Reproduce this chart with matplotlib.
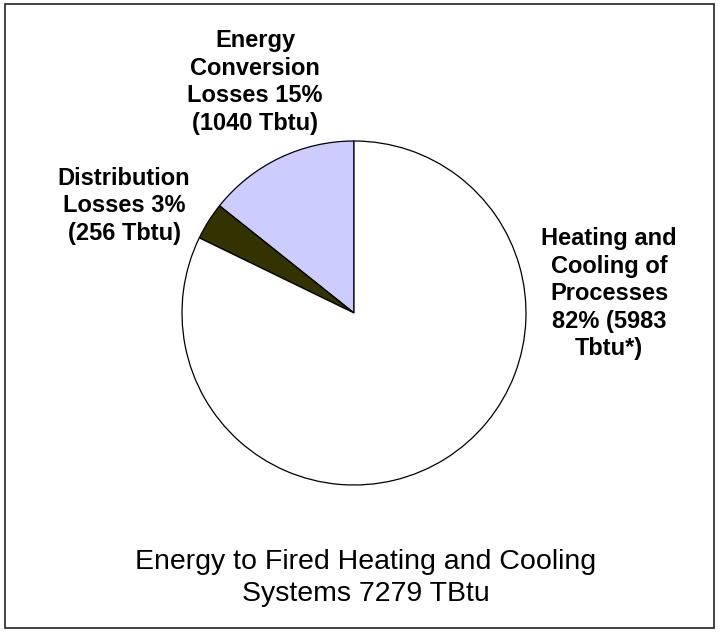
import matplotlib
matplotlib.use("Agg")
import matplotlib.pyplot as plt
from matplotlib.patches import Rectangle

plt.rcParams['font.family'] = ['Liberation Sans', 'DejaVu Sans']

# slices, counter-clockwise from the top
names = ["Energy\nConversion\nLosses 15%\n(1040 Tbtu)",
         "Distribution\nLosses 3%\n(256 Tbtu)",
         "Heating and\nCooling of\nProcesses\n82% (5983\nTbtu*)"]
tbtu = [1040, 256, 5983]
colors = ["#ccccff", "#333300", "#ffffff"]
title = "Energy to Fired Heating and Cooling\nSystems 7279 TBtu"

W, H = 720, 632
fig = plt.figure(figsize=(W / 100, H / 100), dpi=100)
ax = fig.add_axes([0, 0, 1, 1])
ax.axis("off")

ax.pie(tbtu, colors=colors, startangle=90, counterclock=True,
       center=(354, H - 313), radius=172,
       wedgeprops=dict(edgecolor="black", linewidth=0.9))
ax.set_xlim(0, W)
ax.set_ylim(0, H)
ax.set_aspect("equal")

label_pos = [(255, 82), (124, 206), (609, 294)]
for txt, (x, y) in zip(names, label_pos):
    ax.text(x, H - y, txt, ha="center", va="center", fontsize=17,
            fontweight="bold", linespacing=1.25)

ax.text(366, H - 578, title, ha="center", va="center", fontsize=20.5,
        linespacing=1.33)

fig.patches.append(Rectangle((5, 4), 709, 624, transform=None,
                             fill=False, edgecolor="#222222", linewidth=1.2))

fig.savefig("out.png", dpi=100)
